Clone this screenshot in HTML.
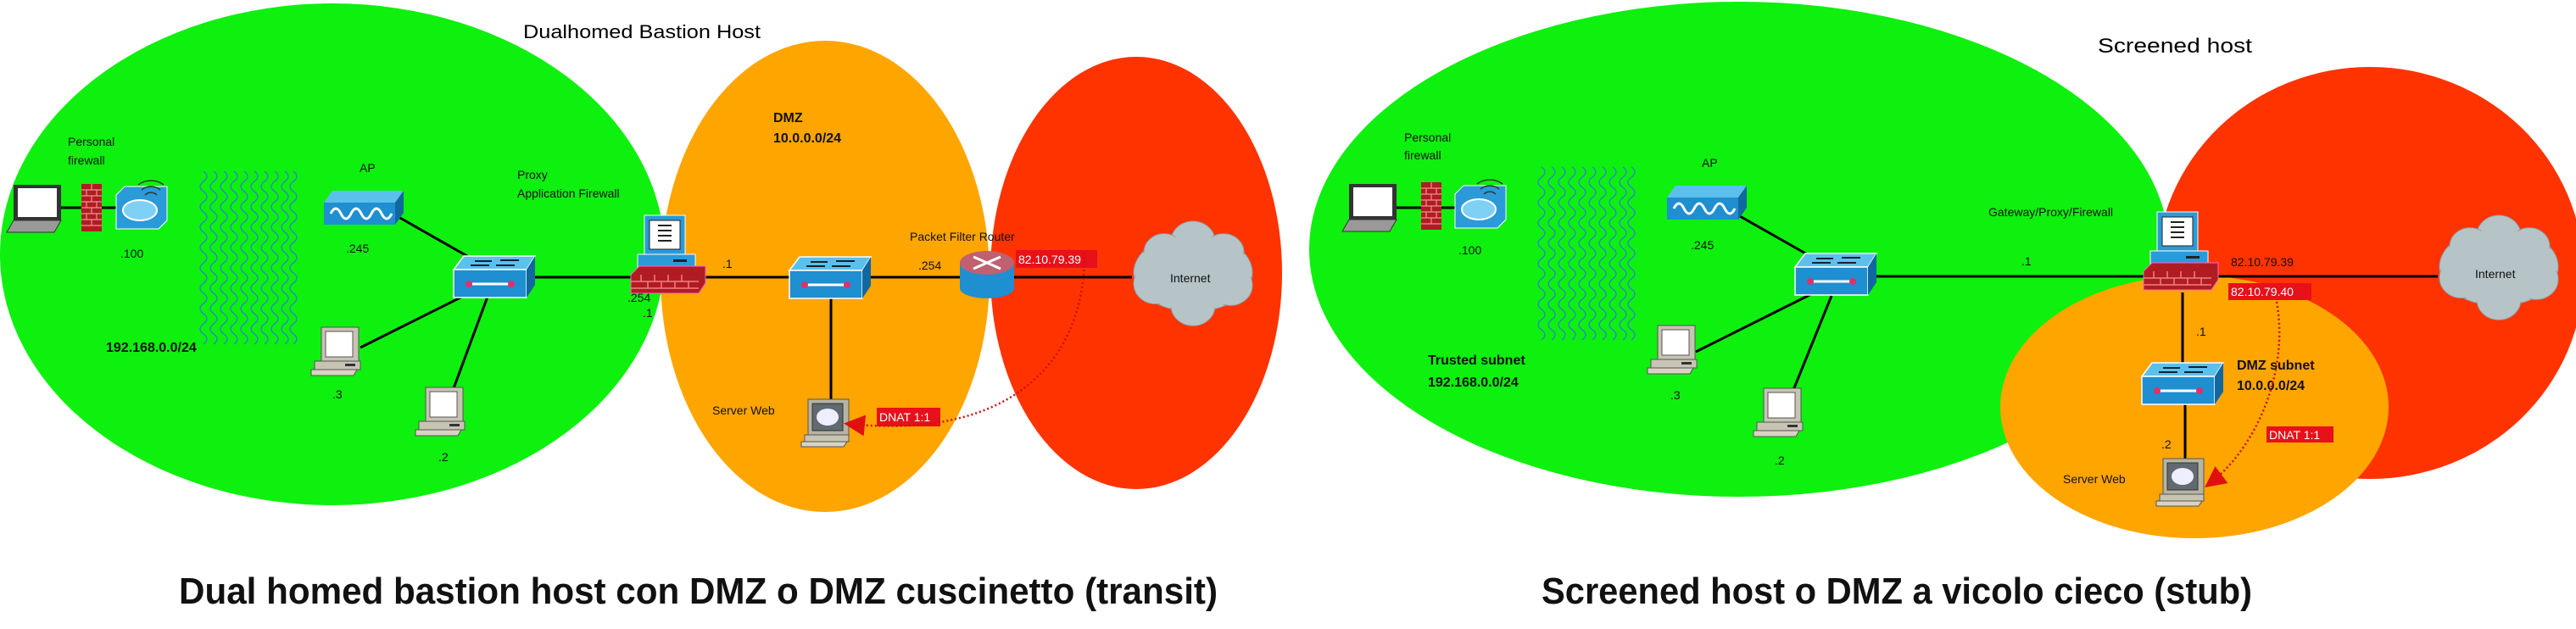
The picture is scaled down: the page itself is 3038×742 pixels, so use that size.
<!DOCTYPE html>
<html><head><meta charset="utf-8"><style>
html,body{margin:0;padding:0;background:#fff;width:3038px;height:742px;overflow:hidden}
svg text{font-family:"Liberation Sans",sans-serif}
</style></head><body>
<svg width="3038" height="742" viewBox="0 0 3038 742" xmlns="http://www.w3.org/2000/svg">
<defs>
<g id="sw">
 <polygon points="0,16 12,0 96,0 86,16" fill="#5cc0ec" stroke="#fff" stroke-width="1.5"/>
 <rect x="0" y="16" width="86" height="33" fill="#1e8fd0" stroke="#fff" stroke-width="1.5"/>
 <polygon points="86,16 96,0 96,34 86,49" fill="#1168a0"/>
 <path d="M25,6 h20 M55,5 h22 M20,11 h22 M50,11 h22" stroke="#123" stroke-width="2"/>
 <path d="M18,33 h50" stroke="#fff" stroke-width="3"/>
 <circle cx="18" cy="33" r="4" fill="#e0306a"/><circle cx="68" cy="33" r="4" fill="#e0306a"/>
</g>
<g id="pc">
 <rect x="12" y="0" width="44" height="40" fill="#c8c4b4" stroke="#555"/>
 <rect x="17" y="5" width="32" height="30" fill="#fff" stroke="#555"/>
 <rect x="4" y="40" width="54" height="10" fill="#c8c4b4" stroke="#555"/>
 <rect x="40" y="43" width="12" height="3" fill="#333"/>
 <polygon points="0,50 54,50 50,57 0,57" fill="#d8d4c4" stroke="#555"/>
</g>
<g id="srv">
 <rect x="8" y="0" width="48" height="42" fill="#b8b4a4" stroke="#555"/>
 <rect x="13" y="5" width="36" height="32" fill="#606a70" stroke="#333"/>
 <ellipse cx="31" cy="21" rx="13" ry="10" fill="#eef"/>
 <rect x="4" y="42" width="52" height="8" fill="#c8c4b4" stroke="#555"/>
 <polygon points="0,50 54,50 50,56 0,56" fill="#d8d4c4" stroke="#555"/>
</g>
<g id="fwpc">
 <rect x="16" y="0" width="48" height="46" fill="#2a9ad8" stroke="#fff"/>
 <rect x="22" y="6" width="36" height="34" fill="#fff" stroke="#222"/>
 <path d="M32,12 h16 M32,18 h16 M32,24 h16 M32,30 h16" stroke="#222" stroke-width="2"/>
 <rect x="8" y="46" width="68" height="16" fill="#2a9ad8" stroke="#fff"/>
 <rect x="50" y="52" width="16" height="3" fill="#222"/>
 <polygon points="0,70 10,60 88,60 88,80 80,92 0,92" fill="#b01c22" stroke="#f6c" stroke-width="1"/>
 <path d="M0,78 h80 M0,86 h80 M12,70 v8 M28,70 v8 M44,70 v8 M60,70 v8 M20,78 v8 M36,78 v8 M52,78 v8 M68,78 v8" stroke="#f08080" stroke-width="1.5"/>
</g>
<g id="brick">
 <rect x="0" y="0" width="24" height="56" fill="#b01c22"/>
 <path d="M0,7 h24 M0,14 h24 M0,21 h24 M0,28 h24 M0,35 h24 M0,42 h24 M0,49 h24 M12,0 v7 M6,7 v7 M18,7 v7 M12,14 v7 M6,21 v7 M18,21 v7 M12,28 v7 M6,35 v7 M18,35 v7 M12,42 v7" stroke="#f09090" stroke-width="1.2"/>
</g>
<g id="lap">
 <rect x="8" y="0" width="56" height="42" fill="#333"/>
 <rect x="13" y="4" width="46" height="34" fill="#fff"/>
 <polygon points="8,42 64,42 56,56 0,56" fill="#999" stroke="#333"/>
</g>
<g id="wl">
 <polygon points="0,16 10,6 60,6 60,46 50,56 0,56" fill="#2a9ad8" stroke="#fff"/>
 <ellipse cx="28" cy="34" rx="20" ry="12" fill="#7fd0f5" stroke="#fff" stroke-width="2"/>
 <path d="M34,16 a10,10 0 0 1 14,0 M30,10 a16,14 0 0 1 22,0 M26,4 a22,18 0 0 1 30,0" stroke="#333" fill="none" stroke-width="1.5"/>
</g>
<g id="ap">
 <polygon points="0,14 10,0 94,0 84,14" fill="#5cc0ec"/>
 <rect x="0" y="14" width="84" height="26" fill="#1e8fd0"/>
 <polygon points="84,14 94,0 94,26 84,40" fill="#1168a0"/>
 <path d="M8,27 q6,-12 12,0 q6,12 12,0 q6,-12 12,0 q6,12 12,0 q6,-12 12,0 q6,12 12,0" stroke="#fff" stroke-width="3" fill="none"/>
</g>
<g id="cloud" fill="#b6c4c8" stroke="#8fa0a4">
 <ellipse cx="74" cy="66" rx="70" ry="50"/>
 <circle cx="74" cy="26" r="26"/><circle cx="40" cy="40" r="24"/><circle cx="110" cy="40" r="24"/>
 <circle cx="30" cy="80" r="26"/><circle cx="118" cy="82" r="26"/><circle cx="74" cy="108" r="26"/>
 <ellipse cx="74" cy="66" rx="68" ry="48" stroke="none"/>
</g>
<g id="waves" fill="none" stroke="#2e7fd6" stroke-width="1.3">
 <path d="M5,0 q8,6 0,12 q-8,6 0,12 q8,6 0,12 q-8,6 0,12 q8,6 0,12 q-8,6 0,12 q8,6 0,12 q-8,6 0,12 q8,6 0,12 q-8,6 0,12 q8,6 0,12 q-8,6 0,12 q8,6 0,12 q-8,6 0,12 q8,6 0,12 q-8,6 0,12 q8,6 0,12"/>
</g>
<g id="wv">
 <use href="#waves" x="0"/><use href="#waves" x="12"/><use href="#waves" x="24"/><use href="#waves" x="36"/><use href="#waves" x="48"/><use href="#waves" x="60"/><use href="#waves" x="72"/><use href="#waves" x="84"/><use href="#waves" x="96"/><use href="#waves" x="106"/>
</g>
<marker id="ar" markerWidth="10" markerHeight="10" refX="8" refY="5" orient="auto"><path d="M0,0 L10,5 L0,10 z" fill="#e01010"/></marker>
</defs>

<!-- LEFT -->
<ellipse cx="392" cy="300" rx="392" ry="296" fill="#0ef00e"/>
<ellipse cx="973" cy="326" rx="194" ry="278" fill="#ffa500"/>
<ellipse cx="1340" cy="322" rx="172" ry="255" fill="#ff3300"/>

<text x="617" y="45" font-size="22" textLength="280" lengthAdjust="spacingAndGlyphs">Dualhomed Bastion Host</text>

<g font-size="14" fill="#111">
<text x="80" y="172">Personal</text><text x="80" y="194">firewall</text>
<text x="142" y="304">.100</text>
<text x="424" y="203">AP</text><text x="408" y="298">.245</text>
<text x="610" y="211">Proxy</text><text x="610" y="233">Application Firewall</text>
<text x="740" y="356">.254</text><text x="758" y="374">.1</text>
<text x="852" y="316">.1</text>
<text x="392" y="470">.3</text><text x="517" y="544">.2</text>
<text x="1073" y="284">Packet Filter Router</text>
<text x="1083" y="318">.254</text>
<text x="840" y="489">Server Web</text>
</g>
<g font-size="16" font-weight="bold" fill="#111">
<text x="125" y="415">192.168.0.0/24</text>
<text x="912" y="144">DMZ</text><text x="912" y="168">10.0.0.0/24</text>
</g>

<g stroke="#000" stroke-width="3">
<line x1="70" y1="245" x2="150" y2="245"/>
<line x1="470" y1="256" x2="565" y2="310"/>
<line x1="629" y1="327" x2="1335" y2="327"/>
<line x1="555" y1="345" x2="425" y2="410"/>
<line x1="575" y1="350" x2="535" y2="458"/>
<line x1="980" y1="350" x2="980" y2="475"/>
</g>
<use href="#lap" x="8" y="218"/>
<use href="#brick" x="96" y="217"/>
<use href="#wl" x="137" y="214"/>
<use href="#wv" x="235" y="202"/>
<use href="#ap" x="382" y="225"/>
<use href="#sw" x="535" y="302"/>
<use href="#pc" x="367" y="386"/>
<use href="#pc" x="490" y="457"/>
<use href="#fwpc" x="744" y="254"/>
<use href="#sw" x="931" y="303"/>
<use href="#srv" x="945" y="471"/>
<g>
 <rect x="1132" y="310" width="64" height="30" fill="#1e8fd0"/>
 <ellipse cx="1164" cy="340" rx="32" ry="12" fill="#1e8fd0"/>
 <ellipse cx="1164" cy="310" rx="32" ry="14" fill="#c06070"/>
 <path d="M1148,303 l32,14 M1180,303 l-32,14" stroke="#fff" stroke-width="3"/>
</g>
<g transform="translate(1333 261) scale(1 0.92)"><use href="#cloud"/></g>
<text x="1380" y="333" font-size="14" fill="#111">Internet</text>
<rect x="1198" y="295" width="96" height="21" fill="#e8101a"/>
<text x="1201" y="311" font-size="14" fill="#fff">82.10.79.39</text>
<rect x="1034" y="481" width="75" height="22" fill="#e8101a"/>
<text x="1037" y="497" font-size="14" fill="#fff">DNAT 1:1</text>
<path d="M1279,298 C1280,420 1200,520 1000,500" stroke="#d01010" stroke-width="2.5" stroke-dasharray="2,3" fill="none" marker-end="url(#ar)"/>

<text x="211" y="712" font-size="44" font-weight="bold" textLength="1225" lengthAdjust="spacingAndGlyphs" fill="#111">Dual homed bastion host con DMZ o DMZ cuscinetto (transit)</text>

<!-- RIGHT -->
<ellipse cx="2051" cy="294" rx="507" ry="292" fill="#0ef00e"/>
<ellipse cx="2795" cy="322" rx="252" ry="243" fill="#ff3300"/>
<ellipse cx="2588" cy="480" rx="229" ry="155" fill="#ffa500"/>

<text x="2474" y="62" font-size="24" textLength="182" lengthAdjust="spacingAndGlyphs">Screened host</text>

<g font-size="14" fill="#111">
<text x="1656" y="167">Personal</text><text x="1656" y="188">firewall</text>
<text x="1720" y="300">.100</text>
<text x="2007" y="197">AP</text><text x="1994" y="294">.245</text>
<text x="1970" y="471">.3</text><text x="2093" y="548">.2</text>
<text x="2345" y="255">Gateway/Proxy/Firewall</text>
<text x="2384" y="313">.1</text>
<text x="2631" y="314">82.10.79.39</text>
<text x="2590" y="396">.1</text>
<text x="2549" y="529">.2</text>
<text x="2433" y="570">Server Web</text>
</g>
<g font-size="16" font-weight="bold" fill="#111">
<text x="1684" y="430">Trusted subnet</text><text x="1684" y="456">192.168.0.0/24</text>
<text x="2638" y="436">DMZ subnet</text><text x="2638" y="460">10.0.0.0/24</text>
</g>
<g stroke="#000" stroke-width="3">
<line x1="1645" y1="245" x2="1720" y2="245"/>
<line x1="2050" y1="254" x2="2140" y2="305"/>
<line x1="2213" y1="326" x2="2875" y2="326"/>
<line x1="2140" y1="345" x2="2000" y2="415"/>
<line x1="2160" y1="349" x2="2115" y2="460"/>
<line x1="2574" y1="345" x2="2574" y2="430"/>
<line x1="2577" y1="476" x2="2577" y2="542"/>
</g>
<use href="#lap" x="1583" y="217"/>
<use href="#brick" x="1676" y="215"/>
<use href="#wl" x="1716" y="213"/>
<use href="#wv" x="1813" y="197"/>
<use href="#ap" x="1966" y="219"/>
<use href="#sw" x="2117" y="299"/>
<use href="#pc" x="1943" y="384"/>
<use href="#pc" x="2068" y="458"/>
<use href="#fwpc" x="2528" y="250"/>
<use href="#sw" x="2526" y="428"/>
<use href="#srv" x="2543" y="541"/>
<g transform="translate(2873 254) scale(1 0.92)"><use href="#cloud"/></g>
<text x="2919" y="328" font-size="14" fill="#111">Internet</text>
<rect x="2628" y="334" width="98" height="20" fill="#e8101a"/>
<text x="2631" y="349" font-size="14" fill="#fff">82.10.79.40</text>
<rect x="2673" y="503" width="79" height="19" fill="#e8101a"/>
<text x="2676" y="518" font-size="14" fill="#fff">DNAT 1:1</text>
<path d="M2685,356 C2700,440 2660,530 2604,572" stroke="#d01010" stroke-width="2.5" stroke-dasharray="2,3" fill="none" marker-end="url(#ar)"/>

<text x="1818" y="712" font-size="44" font-weight="bold" textLength="838" lengthAdjust="spacingAndGlyphs" fill="#111">Screened host o DMZ a vicolo cieco (stub)</text>
</svg>
</body></html>
